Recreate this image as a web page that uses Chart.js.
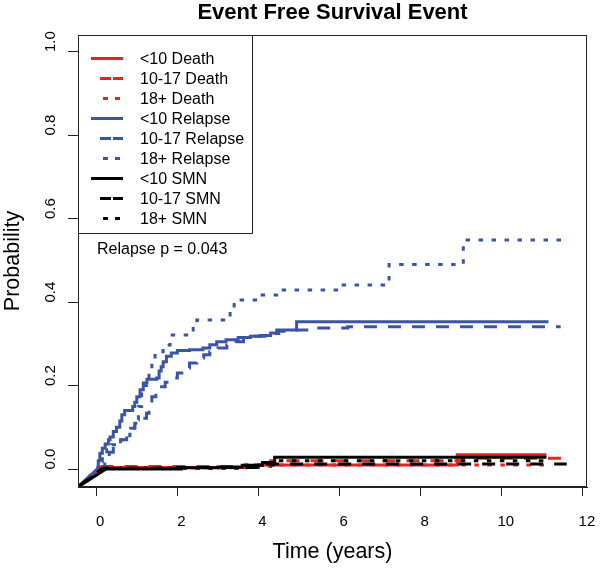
<!DOCTYPE html>
<html>
<head>
<meta charset="utf-8">
<script src="https://cdn.jsdelivr.net/npm/chart.js@4.4.1/dist/chart.umd.min.js"></script>
<style>
  html, body { margin: 0; padding: 0; background: #fff; }
  #wrap { width: 600px; height: 570px; }
</style>
</head>
<body>
<div id="wrap"><canvas id="chart" width="600" height="570"></canvas></div>
<script>
// values: time in years / cumulative probability

const xTicks = [0, 2, 4, 6, 8, 10, 12];
const yTicks = [0, 0.2, 0.4, 0.6, 0.8, 1.0];
const xMin = -0.45, xMax = 12.1;
const yMin = -0.043, yMax = 1.04;

// all curves are drawn in from the lower-left corner of the plot
const startT = -0.45, startP = -0.043;

const lt10DeathT = [0.12, 4.0, 8.9, 11.1];
const lt10DeathP = [0.004, 0.01, 0.034, 0.034];
const mid1017DeathT = [0.1, 2.0, 4.3, 9.0, 11.6];
const mid1017DeathP = [0.006, 0.006, 0.02, 0.026, 0.026];
const ge18DeathT = [0.1, 3.8, 11.25];
const ge18DeathP = [0.003, 0.01, 0.01];

const lt10RelapseT = [0.02, 0.05, 0.09, 0.15, 0.22, 0.3, 0.34, 0.42, 0.5, 0.58, 0.63, 0.7, 0.83, 0.9, 0.95, 1.0,
  1.08, 1.16, 1.25, 1.49, 1.55, 1.6, 1.65, 1.73, 1.85, 2.0, 2.3, 2.63, 2.8, 2.97, 3.2, 3.5, 3.8, 4.04, 4.3, 4.45, 4.94, 11.15];
const lt10RelapseP = [0, 0.02, 0.038, 0.05, 0.06, 0.07, 0.077, 0.09, 0.1, 0.115, 0.13, 0.14, 0.14, 0.15, 0.16, 0.173,
  0.19, 0.206, 0.215, 0.218, 0.235, 0.245, 0.257, 0.27, 0.278, 0.284, 0.286, 0.29, 0.298, 0.305, 0.31, 0.315, 0.318, 0.32, 0.326, 0.333, 0.353, 0.353];

const mid1017RelapseT = [0.05, 0.21, 0.32, 0.42, 0.6, 0.75, 0.85, 0.95, 1.1, 1.24, 1.3, 1.37, 1.47, 1.57, 1.7, 1.82,
  2.0, 2.15, 2.3, 2.48, 2.65, 2.8, 3.0, 3.22, 3.45, 3.63, 3.9, 4.2, 4.5, 4.86, 5.35, 6.2, 11.45];
const mid1017RelapseP = [0, 0.03, 0.04, 0.053, 0.07, 0.086, 0.098, 0.11, 0.122, 0.134, 0.155, 0.173, 0.185, 0.197, 0.208, 0.218,
  0.23, 0.242, 0.254, 0.266, 0.274, 0.281, 0.29, 0.297, 0.305, 0.313, 0.318, 0.325, 0.33, 0.333, 0.338, 0.341, 0.341];

const ge18RelapseT = [0.01, 0.04, 0.15, 0.26, 0.38, 0.5, 0.65, 0.83, 0.95, 1.04, 1.12, 1.18, 1.24, 1.3, 1.37, 1.45,
  1.65, 1.82, 2.23, 2.39, 2.48, 3.3, 3.4, 4.04, 4.45, 6.0, 7.22, 9.05, 11.5];
const ge18RelapseP = [0, 0.018, 0.032, 0.046, 0.058, 0.07, 0.08, 0.09, 0.118, 0.15, 0.18, 0.2, 0.221, 0.24, 0.253, 0.281,
  0.297, 0.321, 0.329, 0.341, 0.357, 0.38, 0.405, 0.417, 0.429, 0.441, 0.49, 0.549, 0.549];

const lt10SmnT = [0.24, 2.1, 3.0, 3.6, 4.1, 4.4, 11.1];
const lt10SmnP = [0, 0.003, 0.005, 0.009, 0.016, 0.028, 0.028];
const mid1017SmnT = [0.15, 2.0, 4.2, 11.6];
const mid1017SmnP = [0.002, 0.004, 0.012, 0.012];
const ge18SmnT = [0.2, 3.6, 4.4, 11.2];
const ge18SmnP = [0.002, 0.01, 0.02, 0.02];

const pValueText = 'Relapse p = 0.043';

const FONT = "'Liberation Sans', Arial, Helvetica, sans-serif";
const RED = '#e8231f', BLUE = '#3b55a6', BLACK = '#000000';
const DASH = {
  solid: { dash: [], legendDash: [], legendFrom: 13 },
  dashed: { dash: [13, 11], legendDash: [11, 2], legendFrom: 22 },
  dotted: { dash: [4.5, 8.5], legendDash: [5, 7], legendFrom: 25 },
};

const series = [
  { label: '<10 Death', t: lt10DeathT, p: lt10DeathP, color: RED, style: DASH.solid, order: 3 },
  { label: '10-17 Death', t: mid1017DeathT, p: mid1017DeathP, color: RED, style: DASH.dashed, order: 3 },
  { label: '18+ Death', t: ge18DeathT, p: ge18DeathP, color: RED, style: DASH.dotted, order: 3 },
  { label: '<10 Relapse', t: lt10RelapseT, p: lt10RelapseP, color: BLUE, style: DASH.solid, order: 2 },
  { label: '10-17 Relapse', t: mid1017RelapseT, p: mid1017RelapseP, color: BLUE, style: DASH.dashed, order: 2 },
  { label: '18+ Relapse', t: ge18RelapseT, p: ge18RelapseP, color: BLUE, style: DASH.dotted, order: 2 },
  { label: '<10 SMN', t: lt10SmnT, p: lt10SmnP, color: BLACK, style: DASH.solid, order: 1 },
  { label: '10-17 SMN', t: mid1017SmnT, p: mid1017SmnP, color: BLACK, style: DASH.dashed, order: 1 },
  { label: '18+ SMN', t: ge18SmnT, p: ge18SmnP, color: BLACK, style: DASH.dotted, order: 1 },
];

const lineStyle = s => ({
  borderColor: s.color,
  borderWidth: 3,
  borderDash: s.style.dash,
  borderCapStyle: 'butt',
  pointRadius: 0,
  fill: false,
  order: s.order,
});

// stepped survival curves plus a straight lead-in from the corner
const datasets = [];
series.forEach(s => {
  datasets.push({
    ...lineStyle(s),
    label: s.label,
    data: s.t.map((t, i) => ({ x: t, y: s.p[i] })),
    stepped: 'before',
  });
  datasets.push({
    ...lineStyle(s),
    label: s.label + ' lead',
    data: [{ x: startT, y: startP }, { x: s.t[0], y: s.p[0] }],
  });
});

const boxAndLegend = {
  id: 'boxAndLegend',
  afterDraw(chart) {
    const { ctx, chartArea: a, scales } = chart;
    ctx.save();
    ctx.strokeStyle = '#222';
    ctx.lineWidth = 1;
    ctx.setLineDash([]);
    ctx.strokeRect(a.left + 0.5, a.top + 0.5, a.right - a.left - 1, a.bottom - a.top - 1);

    // legend box in the top-left corner
    const lx = a.left, ly = a.top, lw = 174, lh = 198;
    ctx.fillStyle = '#fff';
    ctx.fillRect(lx + 1, ly + 1, lw - 1, lh - 1);
    ctx.strokeRect(lx + 0.5, ly + 0.5, lw, lh);
    ctx.font = '16px ' + FONT;
    ctx.textBaseline = 'middle';
    ctx.textAlign = 'left';
    series.forEach((s, i) => {
      const y = ly + 23.5 + i * 20;
      ctx.strokeStyle = s.color;
      ctx.lineWidth = 3;
      ctx.setLineDash(s.style.legendDash);
      ctx.beginPath();
      ctx.moveTo(lx + s.style.legendFrom, y);
      ctx.lineTo(lx + 45, y);
      ctx.stroke();
      ctx.fillStyle = '#000';
      ctx.fillText(s.label, lx + 62, y + 1);
    });

    ctx.setLineDash([]);
    ctx.fillStyle = '#000';
    ctx.fillText(pValueText, scales.x.getPixelForValue(0.02), scales.y.getPixelForValue(0.525));
    ctx.restore();
  },
};

new Chart(document.getElementById('chart'), {
  type: 'line',
  data: { datasets },
  options: {
    responsive: false,
    animation: false,
    layout: { padding: { top: 0, right: 13, bottom: 0, left: 0 } },
    plugins: {
      legend: { display: false },
      tooltip: { enabled: false },
      title: {
        display: true,
        fullSize: false,
        text: 'Event Free Survival Event',
        color: '#000',
        font: { family: FONT, size: 22, weight: 'bold' },
        padding: { top: 0, bottom: 8.6 },
      },
    },
    scales: {
      x: {
        type: 'linear',
        min: xMin,
        max: xMax,
        afterBuildTicks: s => { s.ticks = xTicks.map(v => ({ value: v })); },
        afterFit: s => { s.height = 83; s.paddingLeft = 0; s.paddingRight = 0; },
        ticks: {
          color: '#000',
          font: { family: FONT, size: 15 },
          padding: 17,
          labelOffset: 4,
          autoSkip: false,
          maxRotation: 0,
          callback: v => String(v),
        },
        grid: { display: true, drawOnChartArea: false, drawTicks: true, tickLength: 9, color: '#222' },
        border: { display: true, color: '#222' },
        title: {
          display: true,
          text: 'Time (years)',
          color: '#000',
          font: { family: FONT, size: 21.5 },
          padding: { top: 0, bottom: 5 },
        },
      },
      y: {
        type: 'linear',
        min: yMin,
        max: yMax,
        afterBuildTicks: s => { s.ticks = yTicks.map(v => ({ value: v })); },
        afterFit: s => { s.width = 78; s.paddingTop = 0; s.paddingBottom = 0; },
        ticks: {
          color: '#000',
          font: { family: FONT, size: 15 },
          minRotation: 90,
          maxRotation: 90,
          crossAlign: 'center',
          padding: 6.5,
          labelOffset: -10,
          callback: v => v.toFixed(1),
        },
        grid: { display: true, drawOnChartArea: false, drawTicks: true, tickLength: 10, color: '#222' },
        border: { display: true, color: '#222' },
        title: {
          display: true,
          text: 'Probability',
          color: '#000',
          font: { family: FONT, size: 21.5 },
          padding: { top: 0, bottom: 0 },
        },
      },
    },
  },
  plugins: [boxAndLegend],
});
</script>
</body>
</html>
